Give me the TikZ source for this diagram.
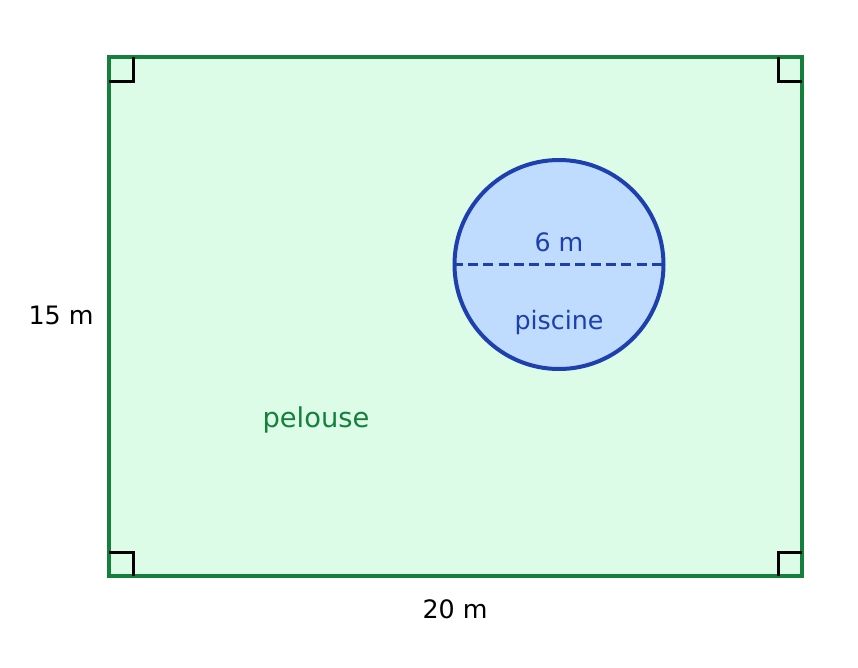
\documentclass[tikz,border=0pt]{standalone}
\usepackage{fontspec}
\setmainfont{DejaVu Sans}
\usetikzlibrary{positioning}
\definecolor{gazon}{RGB}{220,252,231}
\definecolor{gazonbord}{RGB}{21,128,61}
\definecolor{eau}{RGB}{191,219,254}
\definecolor{eaubord}{RGB}{30,64,175}
\tikzset{
  terrain/.style = {draw = gazonbord, fill = gazon, line width = 3pt},
  bassin/.style = {circle, draw = eaubord, fill = eau, line width = 3pt, inner sep = 0pt},
  angledroit/.style = {draw = black, line width = 2.25pt},
  cote/.style = {font = \fontsize{19}{23}\selectfont, text = black},
}
\begin{document}
\begin{tikzpicture}[x = 0.75pt, y = -0.75pt]
		\useasboundingbox (0,0) rectangle (858,668);
		\draw [terrain] (109,57) rectangle (802,576);
		% angles droits
		\draw [angledroit] (133,57) -- (133,81) -- (109,81);
		\draw [angledroit] (778,57) -- (778,81) -- (802,81);
		\draw [angledroit] (133,576) -- (133,552) -- (109,552);
		\draw [angledroit] (778,576) -- (778,552) -- (802,552);
		\node (pis) [bassin, minimum size = 156.75pt] at (559,264.5) {};
		\draw [eaubord, line width = 2.25pt, dash pattern = on 7.5pt off 4pt] (pis.west) -- (pis.east);
		\node (diam) [cote, text = eaubord] at (559,242.5) {6 m};
		\node (nom) [cote, text = eaubord] at (559,322.5) {piscine};
		\node (pel) [cote, text = gazonbord, font = \fontsize{20.5}{24}\selectfont] at (316,419.5) {pelouse};
		\node (larg) [cote] at (61,315.5) {15 m};
		\node (long) [cote] at (455,609.5) {20 m};
		\end{tikzpicture}
\end{document}
